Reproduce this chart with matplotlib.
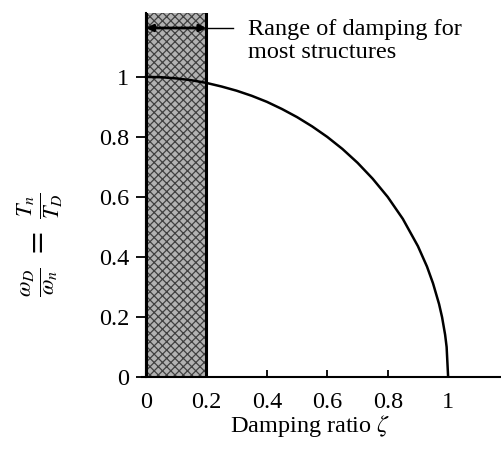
import matplotlib.pyplot as plt
from matplotlib.patches import Rectangle

plt.rcParams["font.family"] = ["Liberation Serif", "DejaVu Serif"]
plt.rcParams["mathtext.fontset"] = "stix"
plt.rcParams["hatch.linewidth"] = 0.9

# damped / undamped frequency ratio against damping ratio
zeta = [0.0, 0.05, 0.1, 0.15, 0.2, 0.25, 0.3, 0.35, 0.4, 0.45, 0.5, 0.55, 0.6,
        0.65, 0.7, 0.75, 0.8, 0.85, 0.9, 0.93, 0.95, 0.97, 0.98, 0.99, 0.995, 1.0]
ratio = [1.0, 0.999, 0.995, 0.989, 0.98, 0.968, 0.954, 0.937, 0.917, 0.893, 0.866,
         0.835, 0.8, 0.76, 0.714, 0.661, 0.6, 0.527, 0.436, 0.368, 0.312, 0.243,
         0.199, 0.141, 0.1, 0.0]

x_ticks = [0, 0.2, 0.4, 0.6, 0.8, 1]
x_tick_labels = ["0", "0.2", "0.4", "0.6", "0.8", "1"]
y_ticks = [0, 0.2, 0.4, 0.6, 0.8, 1]
y_tick_labels = ["0", "0.2", "0.4", "0.6", "0.8", "1"]

band_lo, band_hi = 0.0, 0.2
band_top = 1.213
arrow_y = 1.163

fig = plt.figure(figsize=(5.01, 4.59), dpi=100)
ax = fig.add_axes([141.5 / 501, 82 / 459, 359.5 / 501, 364 / 459])
ax.set_xlim(-0.015, 1.175)
ax.set_ylim(0, band_top)

# shaded band of typical structural damping
ax.add_patch(Rectangle((band_lo, 0), band_hi - band_lo, band_top,
                       facecolor="#b2b2b2", edgecolor="#404040", hatch="xxxx",
                       linewidth=0, zorder=1))
ax.plot([band_hi, band_hi], [0, band_top], color="black", lw=2.2, zorder=3)
ax.plot([band_lo, band_lo], [0, band_top], color="black", lw=2.2, zorder=3)

ax.plot(zeta, ratio, color="black", lw=1.8, zorder=4)

ax.annotate("", xy=(band_lo, arrow_y), xytext=(band_hi, arrow_y),
            arrowprops=dict(arrowstyle="<|-|>", color="black", lw=2.0,
                            mutation_scale=10, shrinkA=0, shrinkB=0), zorder=5)
ax.plot([band_hi, 0.288], [arrow_y, arrow_y], color="black", lw=1.0, zorder=5)
ax.text(0.338, 1.157, "Range of damping for", fontsize=17.5, va="center", ha="left")
ax.text(0.338, 1.08, "most structures", fontsize=17.5, va="center", ha="left")

for side in ["top", "right"]:
    ax.spines[side].set_visible(False)
ax.spines["left"].set_position(("data", 0))
ax.spines["left"].set_linewidth(1.5)
ax.spines["bottom"].set_linewidth(1.5)

ax.set_xticks(x_ticks)
ax.set_xticklabels(x_tick_labels, fontsize=17.5)
ax.set_yticks(y_ticks)
ax.set_yticklabels(y_tick_labels, fontsize=17.5)
ax.tick_params(axis="x", direction="in", length=5, width=1.3, pad=11)
ax.tick_params(axis="y", direction="out", length=7, width=1.3, pad=5)

ax.text(0.543, -0.163, r"Damping ratio $\zeta$", fontsize=17.5,
        ha="center", va="center", transform=ax.transData, clip_on=False)
ax.text(-0.351, 0.44, r"$\frac{\omega_D}{\omega_n}\ =\ \frac{T_n}{T_D}$", fontsize=23,
        rotation=90, ha="center", va="center", clip_on=False)

fig.savefig("out.png", dpi=100)
